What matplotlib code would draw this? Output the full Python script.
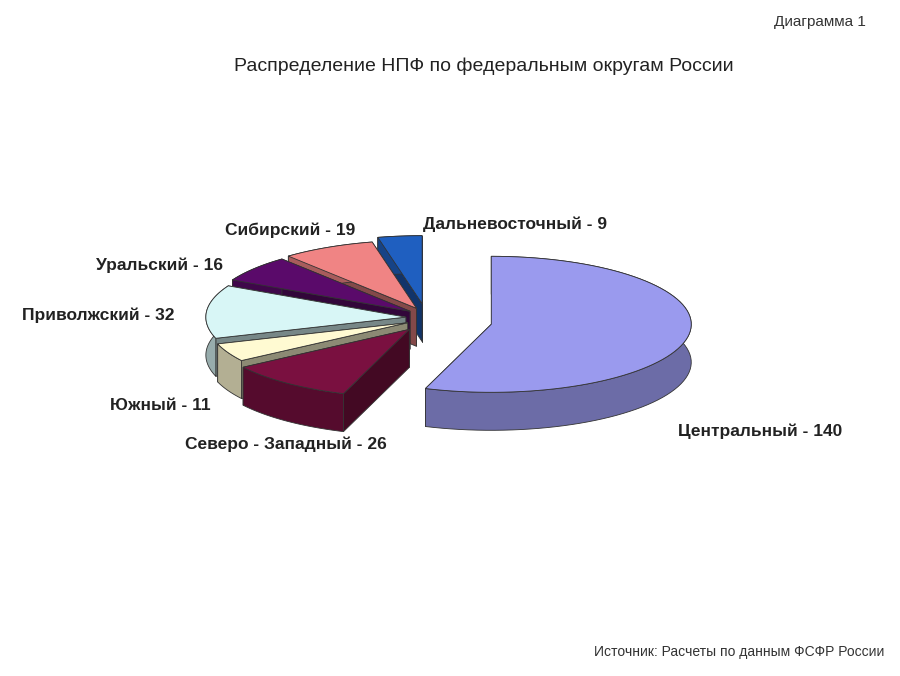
import numpy as np
import matplotlib
matplotlib.use("Agg")
import matplotlib.pyplot as plt
from matplotlib.patches import Polygon

labels = ["Дальневосточный", "Сибирский", "Уральский", "Приволжский", "Южный", "Северо - Западный", "Центральный"]
values = [9, 19, 16, 32, 11, 26, 140]
colors = ["#1f5fc0", "#f08484", "#5a0a6a", "#d8f6f6", "#fffad2", "#7a1040", "#9a9aee"]
explode = [16, 12, 12, 12, 12, 16, 42]
label_pos = [(515, 224), (290, 230), (160, 265), (98, 315), (160, 406), (286, 444), (760, 431)]

fig = plt.figure(figsize=(9, 6.76), dpi=100)
ax = fig.add_axes([0, 0, 1, 1])
ax.set_xlim(0, 900); ax.set_ylim(676, 0); ax.axis("off")

cx, cy, rx, ry, depth = 425, 318, 200, 68, 38
total = sum(values)
start = 90.0
wedges = []
for v, c, e in zip(values, colors, explode):
    span = 360.0 * v / total
    a0, a1 = np.radians(start), np.radians(start + span)
    mid = (a0 + a1) / 2
    ox, oy = cx + e * np.cos(mid) * 1.6, cy - e * np.sin(mid) * 0.9
    wedges.append((a0, a1, mid, ox, oy, c))
    start += span

def dark(c, f):
    r, g, b = matplotlib.colors.to_rgb(c)
    return (r * f, g * f, b * f)

for a0, a1, mid, ox, oy, c in sorted(wedges, key=lambda w: -np.sin(w[2])):
    t = np.linspace(a0, a1, 80)
    xs = ox + rx * np.cos(t); ys = oy - ry * np.sin(t)
    for a in (a0, a1):
        ex, ey = ox + rx * np.cos(a), oy - ry * np.sin(a)
        ax.add_patch(Polygon([(ox, oy), (ex, ey), (ex, ey + depth), (ox, oy + depth)],
                             fc=dark(c, 0.55), ec="#333333", lw=0.6))
    pts = list(zip(xs, ys)) + list(zip(xs[::-1], ys[::-1] + depth))
    ax.add_patch(Polygon(pts, fc=dark(c, 0.7), ec="#333333", lw=0.6))
    top = [(ox, oy)] + list(zip(xs, ys))
    ax.add_patch(Polygon(top, fc=c, ec="#333333", lw=0.6))

for (x, y), l, v in zip(label_pos, labels, values):
    ax.text(x, y, f"{l} - {v}", ha="center", va="center", fontsize=12.5,
            fontweight="bold", color="#222222", family="Liberation Sans")

ax.text(484, 66, "Распределение НПФ по федеральным округам России", ha="center", va="center",
        fontsize=14, color="#222222", family="Liberation Sans")
ax.text(866, 22, "Диаграмма 1", ha="right", va="center", fontsize=11, color="#333333", family="Liberation Sans")
ax.text(884, 652, "Источник: Расчеты по данным ФСФР России", ha="right", va="center",
        fontsize=10, color="#333333", family="Liberation Sans")
fig.savefig("out.png", dpi=100, facecolor="white")
